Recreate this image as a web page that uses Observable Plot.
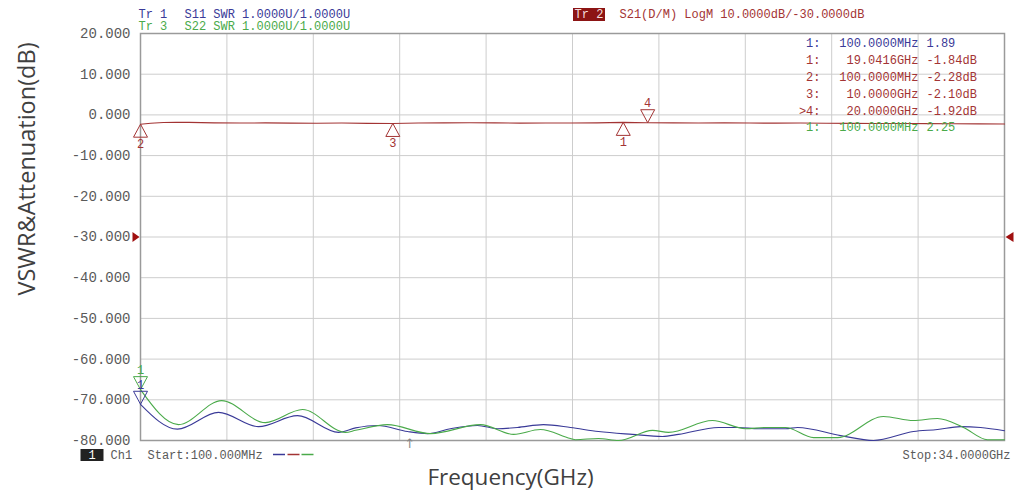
<!DOCTYPE html>
<html>
<head>
<meta charset="utf-8">
<script src="https://cdn.jsdelivr.net/npm/d3@7"></script>
<script src="https://cdn.jsdelivr.net/npm/@observablehq/plot@0.6"></script>
<style>
  body { margin: 0; background: #fff; }
  #chart svg { display: block; }
</style>
</head>
<body>
<div id="chart"></div>
<script>
// Sweep and display settings of the analyser
const startGhz = 0.1;
const stopGhz = 34;
const refDb = -30;          // Tr 2 reference level
const dbPerDiv = 10;
const swrRef = 1;           // Tr 1 / Tr 3 reference value (at the bottom line)
const swrPerDiv = 1;
const yTicks = [20, 10, 0, -10, -20, -30, -40, -50, -60, -70, -80];

// Tr 2: S21 transmission (dB)
const s21Ghz = [0.1, 0.5, 1.0, 1.5, 2.0, 3.0, 4.0, 5.0, 6.0, 7.0, 8.0, 9.0, 10.0, 11.0, 12.0, 13.0, 14.0, 15.0, 16.0, 17.0, 18.0, 19.0416, 20.0, 21.0, 22.0, 23.0, 24.0, 25.0, 26.0, 27.0, 28.0, 29.0, 30.0, 31.0, 32.0, 33.0, 34.0];
const s21Db  = [-2.28, -2.05, -1.86, -1.80, -1.83, -1.95, -2.00, -1.97, -2.02, -2.05, -2.00, -2.08, -2.10, -1.98, -1.95, -1.93, -1.97, -2.02, -1.98, -2.00, -1.95, -1.84, -1.92, -1.95, -1.98, -1.96, -2.00, -2.03, -2.00, -2.05, -2.08, -2.10, -2.12, -2.15, -2.18, -2.20, -2.22];

// Tr 1: S11 SWR
const s11Ghz = [0.1, 1.55, 3.16, 4.73, 6.26, 7.87, 8.54, 9.40, 10.58, 11.36, 12.26, 13.32, 14.11, 14.89, 15.91, 16.97, 18.07, 19.40, 20.58, 21.21, 22.78, 23.56, 24.35, 25.41, 25.88, 27.57, 28.86, 30.43, 31.37, 32.27, 33.06, 34.0];
const s11Swr = [1.89, 1.28, 1.69, 1.34, 1.61, 1.20, 1.31, 1.37, 1.22, 1.17, 1.29, 1.37, 1.29, 1.32, 1.39, 1.32, 1.22, 1.15, 1.10, 1.15, 1.32, 1.32, 1.29, 1.29, 1.32, 1.12, 1.00, 1.22, 1.27, 1.34, 1.32, 1.24];

// Tr 3: S22 SWR
const s22Ghz = [0.1, 1.59, 3.28, 5.00, 6.46, 8.14, 8.54, 9.79, 11.48, 13.44, 14.74, 15.79, 16.97, 17.17, 18.07, 18.86, 20.19, 20.82, 22.54, 23.84, 24.62, 25.41, 26.51, 27.45, 29.25, 30.43, 31.37, 32.39, 33.33, 34.0];
const s22Swr = [2.25, 1.39, 1.98, 1.44, 1.76, 1.20, 1.25, 1.39, 1.17, 1.39, 1.15, 1.27, 1.05, 1.02, 1.05, 1.00, 1.25, 1.20, 1.49, 1.29, 1.32, 1.32, 1.07, 1.07, 1.59, 1.49, 1.54, 1.32, 1.02, 1.02];

// Markers
const tr2MarkerIds = ["1", "2", "3", "4"];
const tr2MarkerGhz = [19.0416, 0.1, 10.0, 20.0];
const tr2MarkerDb  = [-1.84, -2.28, -2.10, -1.92];
const tr2ActiveMarker = "4";
const tr1MarkerGhz = 0.1, tr1MarkerSwr = 1.89;
const tr3MarkerGhz = 0.1, tr3MarkerSwr = 2.25;

// Position along the x axis of the sweep cursor arrow
const cursorGhz = 10.66;

// Colours
const blue = "#3a3a98";
const red = "#a33434";
const green = "#4aaa4a";
const gridGrey = "#cdcdcd";
const frameGrey = "#9a9a9a";
const textGrey = "#5a5a5a";
const mono = "Liberation Mono, DejaVu Sans Mono, monospace";

// SWR traces share the grid: reference value on the bottom line, swrPerDiv per division
const bottomDb = d3.min(yTicks);
const swrToGrid = s => bottomDb + (s - swrRef) / swrPerDiv * dbPerDiv;

const s21 = s21Ghz.map((f, i) => ({f, v: s21Db[i]}));
const s11 = s11Ghz.map((f, i) => ({f, v: swrToGrid(s11Swr[i])}));
const s22 = s22Ghz.map((f, i) => ({f, v: swrToGrid(s22Swr[i])}));

const tr2Markers = tr2MarkerIds.map((id, i) => ({id, f: tr2MarkerGhz[i], v: tr2MarkerDb[i], active: id === tr2ActiveMarker}));
const swrMarkers = [
  {id: "1", f: tr1MarkerGhz, v: swrToGrid(tr1MarkerSwr), color: blue},
  {id: "1", f: tr3MarkerGhz, v: swrToGrid(tr3MarkerSwr), color: green}
];

const xGrid = d3.range(11).map(i => startGhz + i * (stopGhz - startGhz) / 10);

// Marker symbols: outlined triangles with the tip on the trace
const tipUp = {draw(c) { c.moveTo(0, 0); c.lineTo(-7, 13); c.lineTo(7, 13); c.closePath(); }};
const tipDown = {draw(c) { c.moveTo(0, 0); c.lineTo(-7, -13); c.lineTo(7, -13); c.closePath(); }};
const pointRight = {draw(c) { c.moveTo(0, 0); c.lineTo(-7, -5); c.lineTo(-7, 5); c.closePath(); }};
const pointLeft = {draw(c) { c.moveTo(0, 0); c.lineTo(8, -5); c.lineTo(8, 5); c.closePath(); }};
const box = (w, h) => ({draw(c) { c.rect(-w / 2, -h / 2, w, h); }});
const dash = {draw(c) { c.moveTo(-6, 0); c.lineTo(6, 0); }};

// Marker readout table
const fmtFreq = f => f < 1 ? `${(f * 1000).toFixed(4)}MHz` : `${f.toFixed(4)}GHz`;
const tableRows = [
  {num: "1:", freq: fmtFreq(tr1MarkerGhz), val: tr1MarkerSwr.toFixed(2), color: blue},
  ...tr2Markers.map(m => ({num: (m.active ? ">" : "") + m.id + ":", freq: fmtFreq(m.f), val: m.v.toFixed(2) + "dB", color: red})),
  {num: "1:", freq: fmtFreq(tr3MarkerGhz), val: tr3MarkerSwr.toFixed(2), color: green}
];
const tableMarks = tableRows.flatMap((r, i) => {
  const dy = 10 + i * 16.8;
  const common = {frameAnchor: "top-right", dy, fill: r.color, fontFamily: mono, fontSize: 12, lineAnchor: "middle"};
  return [
    Plot.text([r.num], {...common, text: d => d, textAnchor: "end", dx: -184}),
    Plot.text([r.freq], {...common, text: d => d, textAnchor: "end", dx: -86}),
    Plot.text([r.val], {...common, text: d => d, textAnchor: "start", dx: -78})
  ];
});

const label = (txt, opts) => Plot.text([txt], {text: d => d, fontFamily: mono, fontSize: 12, lineAnchor: "middle", ...opts});

const chart = Plot.plot({
  width: 1017,
  height: 498,
  marginLeft: 140,
  marginRight: 13,
  marginTop: 33,
  marginBottom: 58,
  x: {domain: [startGhz, stopGhz], axis: null},
  y: {domain: [bottomDb, d3.max(yTicks)]},
  style: {fontFamily: mono, background: "#fff", overflow: "visible"},
  marks: [
    // grid and frame
    Plot.ruleX(xGrid.slice(1, -1), {stroke: gridGrey, strokeWidth: 1}),
    Plot.ruleY(yTicks.slice(1, -1), {stroke: gridGrey, strokeWidth: 1}),
    Plot.frame({stroke: frameGrey, strokeWidth: 1.5}),
    Plot.axisY({ticks: yTicks, tickFormat: d => d.toFixed(3), tickSize: 0, tickPadding: 10, fill: textGrey, fontSize: 14, fontFamily: mono, label: null}),

    // traces
    Plot.line(s11, {x: "f", y: "v", stroke: blue, strokeWidth: 1.1, curve: "monotone-x"}),
    Plot.line(s22, {x: "f", y: "v", stroke: green, strokeWidth: 1.1, curve: "monotone-x"}),
    Plot.line(s21, {x: "f", y: "v", stroke: red, strokeWidth: 1.1, curve: "linear"}),

    // Tr 2 reference level indicators
    Plot.dot([refDb], {x: () => startGhz, y: d => d, symbol: pointRight, fill: "#a01010", stroke: "none", dx: -1}),
    Plot.dot([refDb], {x: () => stopGhz, y: d => d, symbol: pointLeft, fill: "#a01010", stroke: "none", dx: 1}),

    // Tr 2 markers
    Plot.dot(tr2Markers, {x: "f", y: "v", symbol: d => d.active ? tipDown : tipUp, stroke: red, fill: "none", strokeWidth: 1}),
    Plot.text(tr2Markers.filter(d => !d.active), {x: "f", y: "v", text: "id", dy: 20, fill: red, fontSize: 12, fontFamily: mono}),
    Plot.text(tr2Markers.filter(d => d.active), {x: "f", y: "v", text: "id", dy: -20, fill: red, fontSize: 12, fontFamily: mono}),

    // Tr 1 / Tr 3 markers
    Plot.dot(swrMarkers, {x: "f", y: "v", symbol: tipDown, stroke: d => d.color, fill: "none", strokeWidth: 1}),
    Plot.text(swrMarkers, {x: "f", y: "v", text: "id", dy: -19, fill: d => d.color, fontSize: 12, fontFamily: mono}),

    // marker readout
    ...tableMarks,

    // trace headers
    label("Tr 1", {frameAnchor: "top-left", dx: -2, dy: -19, fill: blue, textAnchor: "start"}),
    label(`S11 SWR ${swrPerDiv.toFixed(4)}U/${swrRef.toFixed(4)}U`, {frameAnchor: "top-left", dx: 44, dy: -19, fill: blue, textAnchor: "start"}),
    label("Tr 3", {frameAnchor: "top-left", dx: -2, dy: -7, fill: green, textAnchor: "start"}),
    label(`S22 SWR ${swrPerDiv.toFixed(4)}U/${swrRef.toFixed(4)}U`, {frameAnchor: "top-left", dx: 44, dy: -7, fill: green, textAnchor: "start"}),
    Plot.dot([0], {frameAnchor: "top-left", dx: 448.5, dy: -19, symbol: box(32, 13), fill: "#8c1414", stroke: "none"}),
    label("Tr 2", {frameAnchor: "top-left", dx: 448.5, dy: -19, fill: "#f4dede", textAnchor: "middle"}),
    label(`S21(D/M) LogM ${dbPerDiv.toFixed(4)}dB/${refDb.toFixed(4)}dB`, {frameAnchor: "top-left", dx: 479, dy: -19, fill: red, textAnchor: "start"}),

    // channel line under the grid
    Plot.dot([0], {frameAnchor: "bottom-left", dx: -48.5, dy: 14.5, symbol: box(23, 12), fill: "#222", stroke: "none"}),
    label("1", {frameAnchor: "bottom-left", dx: -48.5, dy: 15, fill: "#fff", textAnchor: "middle"}),
    label("Ch1", {frameAnchor: "bottom-left", dx: -30, dy: 15, fill: textGrey, textAnchor: "start"}),
    label(`Start:${(startGhz * 1000).toFixed(3)}MHz`, {frameAnchor: "bottom-left", dx: 7, dy: 15, fill: textGrey, textAnchor: "start"}),
    Plot.dot([0], {frameAnchor: "bottom-left", dx: 138.5, dy: 14, symbol: dash, stroke: blue}),
    Plot.dot([0], {frameAnchor: "bottom-left", dx: 153, dy: 14, symbol: dash, stroke: red}),
    Plot.dot([0], {frameAnchor: "bottom-left", dx: 167, dy: 14, symbol: dash, stroke: green}),
    label(`Stop:${stopGhz.toFixed(4)}GHz`, {frameAnchor: "bottom-right", dx: 6, dy: 15, fill: textGrey, textAnchor: "end"}),
    Plot.text([cursorGhz], {x: d => d, frameAnchor: "bottom", text: () => "↑", dy: 7, fill: "#888", fontSize: 13, fontFamily: "DejaVu Sans"}),

    // axis titles
    Plot.text(["VSWR&Attenuation(dB)"], {text: d => d, frameAnchor: "left", textAnchor: "middle", rotate: -90, dx: -113, dy: -68, fontFamily: "Open Sans", fontSize: 23.5, fill: "#404040"}),
    Plot.text(["Frequency(GHz)"], {text: d => d, frameAnchor: "bottom", textAnchor: "middle", dx: -62, dy: 44, fontFamily: "Open Sans", fontSize: 22.5, fill: "#404040"})
  ]
});

document.getElementById("chart").append(chart);
</script>
</body>
</html>
